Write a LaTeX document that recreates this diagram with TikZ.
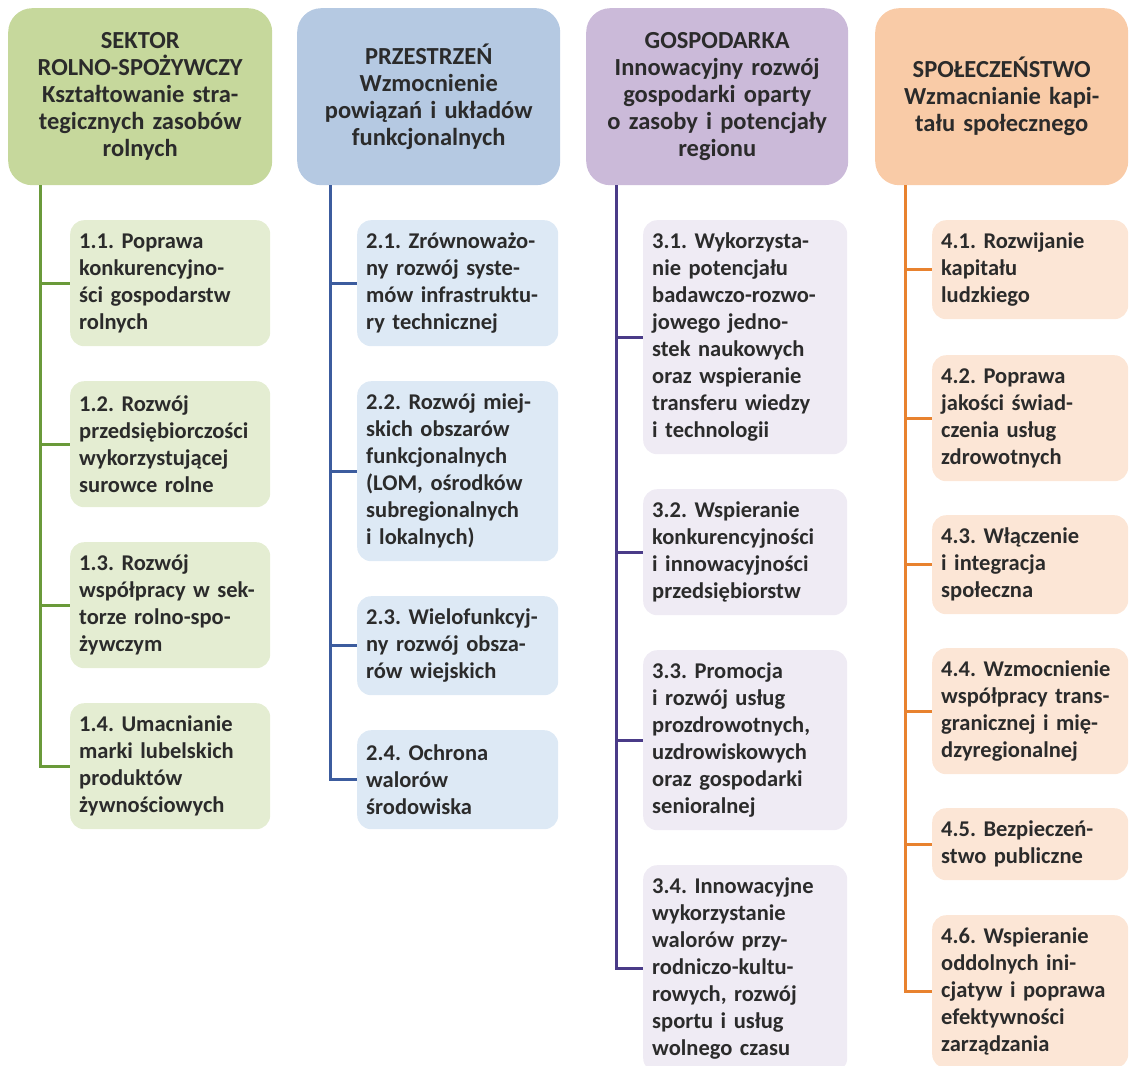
\documentclass[tikz,border=0pt]{standalone}
\usepackage{fontspec}
\setmainfont{Carlito}
\frenchspacing
\definecolor{ink}{HTML}{2B2B2B}
\definecolor{agrihead}{HTML}{C6D89C}
\definecolor{agribox}{HTML}{E4EDD2}
\definecolor{agriline}{HTML}{6A9A3A}
\definecolor{spacehead}{HTML}{B5C9E2}
\definecolor{spacebox}{HTML}{DDE9F5}
\definecolor{spaceline}{HTML}{3C5C9E}
\definecolor{econhead}{HTML}{CBBAD9}
\definecolor{econbox}{HTML}{EFEBF4}
\definecolor{econline}{HTML}{4A3B88}
\definecolor{sochead}{HTML}{F9CBA7}
\definecolor{socbox}{HTML}{FCE6D6}
\definecolor{socline}{HTML}{E8822F}

\begin{document}
\begin{tikzpicture}[x=1pt, y=-1pt, every node/.style={font=\bfseries\fontsize{22.5}{27}\selectfont, text=ink, inner ysep=0pt, inner xsep=9pt}, head/.style={fill=#1, rounded corners=24pt, anchor=north west, align=center, minimum height=177pt, font=\bfseries\fontsize{24.5}{27}\selectfont}, sub/.style={fill=#1, rounded corners=14pt, anchor=north west, align=left}, trunk/.style={draw=#1, line width=3pt}]
	\useasboundingbox (0,0) rectangle (1129,1065);
	% headers
	\node[head=agrihead, text width=246pt] (h1) at (8,8) {SEKTOR\\ROLNO-SPOŻYWCZY\\Kształtowanie stra-\\tegicznych zasobów\\rolnych};
	\node[head=spacehead, text width=245pt] (h2) at (297,8) {PRZESTRZEŃ\\Wzmocnienie\\powiązań i układów\\funkcjonalnych};
	\node[head=econhead, text width=244pt] (h3) at (586,8) {GOSPODARKA\\Innowacyjny rozwój\\gospodarki oparty\\o zasoby i potencjały\\regionu};
	\node[head=sochead, text width=235pt] (h4) at (875,8) {SPOŁECZEŃSTWO\\Wzmacnianie kapi-\\tału społecznego};
	% sektor rolno-spozywczy
	\node[sub=agribox, text width=182pt, minimum height=126pt] (b11) at (70,220) {1.1. Poprawa\\konkurencyjno-\\ści gospodarstw\\rolnych};
	\node[sub=agribox, text width=182pt, minimum height=126pt] (b12) at (70,381) {1.2. Rozwój\\przedsiębiorczości\\wykorzystującej\\surowce rolne};
	\node[sub=agribox, text width=182pt, minimum height=126pt] (b13) at (70,542) {1.3. Rozwój\\współpracy w sek-\\torze rolno-spo-\\żywczym};
	\node[sub=agribox, text width=182pt, minimum height=126pt] (b14) at (70,703) {1.4. Umacnianie\\marki lubelskich\\produktów\\żywnościowych};
	% przestrzen
	\node[sub=spacebox, text width=183pt, minimum height=126pt] (b21) at (357,220) {2.1. Zrównoważo-\\ny rozwój syste-\\mów infrastruktu-\\ry technicznej};
	\node[sub=spacebox, text width=183pt, minimum height=180pt] (b22) at (357,381) {2.2. Rozwój miej-\\skich obszarów\\funkcjonalnych\\(LOM, ośrodków\\subregionalnych\\i lokalnych)};
	\node[sub=spacebox, text width=183pt, minimum height=99pt] (b23) at (357,596) {2.3. Wielofunkcyj-\\ny rozwój obsza-\\rów wiejskich};
	\node[sub=spacebox, text width=183pt, minimum height=99pt] (b24) at (357,730) {2.4. Ochrona\\walorów\\środowiska};
	% gospodarka
	\node[sub=econbox, text width=186pt, minimum height=234pt] (b31) at (643,220) {3.1. Wykorzysta-\\nie potencjału\\badawczo-rozwo-\\jowego jedno-\\stek naukowych\\oraz wspieranie\\transferu wiedzy\\i technologii};
	\node[sub=econbox, text width=186pt, minimum height=126pt] (b32) at (643,489) {3.2. Wspieranie\\konkurencyjności\\i innowacyjności\\przedsiębiorstw};
	\node[sub=econbox, text width=186pt, minimum height=180pt] (b33) at (643,650) {3.3. Promocja\\i rozwój usług\\prozdrowotnych,\\uzdrowiskowych\\oraz gospodarki\\senioralnej};
	\node[sub=econbox, text width=186pt, minimum height=207pt] (b34) at (643,865) {3.4. Innowacyjne\\wykorzystanie\\walorów przy-\\rodniczo-kultu-\\rowych, rozwój\\sportu i usług\\wolnego czasu};
	% spoleczenstwo
	\node[sub=socbox, text width=178pt, minimum height=99pt] (b41) at (932,220) {4.1. Rozwijanie\\kapitału\\ludzkiego};
	\node[sub=socbox, text width=178pt, minimum height=126pt] (b42) at (932,355) {4.2. Poprawa\\jakości świad-\\czenia usług\\zdrowotnych};
	\node[sub=socbox, text width=178pt, minimum height=99pt] (b43) at (932,515) {4.3. Włączenie\\i integracja\\społeczna};
	\node[sub=socbox, text width=178pt, minimum height=126pt] (b44) at (932,648) {4.4. Wzmocnienie\\współpracy trans-\\granicznej i mię-\\dzyregionalnej};
	\node[sub=socbox, text width=178pt, minimum height=72pt] (b45) at (932,808) {4.5. Bezpieczeń-\\stwo publiczne};
	\node[sub=socbox, text width=178pt, minimum height=153pt] (b46) at (932,915) {4.6. Wspieranie\\oddolnych ini-\\cjatyw i poprawa\\efektywności\\zarządzania};
	% trunks and branches
	\coordinate (t1) at ([xshift=32pt]h1.south west);
	\coordinate (t2) at ([xshift=33pt]h2.south west);
	\coordinate (t3) at ([xshift=30pt]h3.south west);
	\coordinate (t4) at ([xshift=30pt]h4.south west);
	\draw[trunk=agriline] (t1) |- (b14.west) (t1) |- (b13.west) (t1) |- (b12.west) (t1) |- (b11.west);
	\draw[trunk=spaceline] (t2) |- (b24.west) (t2) |- (b23.west) (t2) |- (b22.west) (t2) |- (b21.west);
	\draw[trunk=econline] (t3) |- (b34.west) (t3) |- (b33.west) (t3) |- (b32.west) (t3) |- (b31.west);
	\draw[trunk=socline] (t4) |- (b46.west) (t4) |- (b45.west) (t4) |- (b44.west) (t4) |- (b43.west) (t4) |- (b42.west) (t4) |- (b41.west);
\end{tikzpicture}
\end{document}
